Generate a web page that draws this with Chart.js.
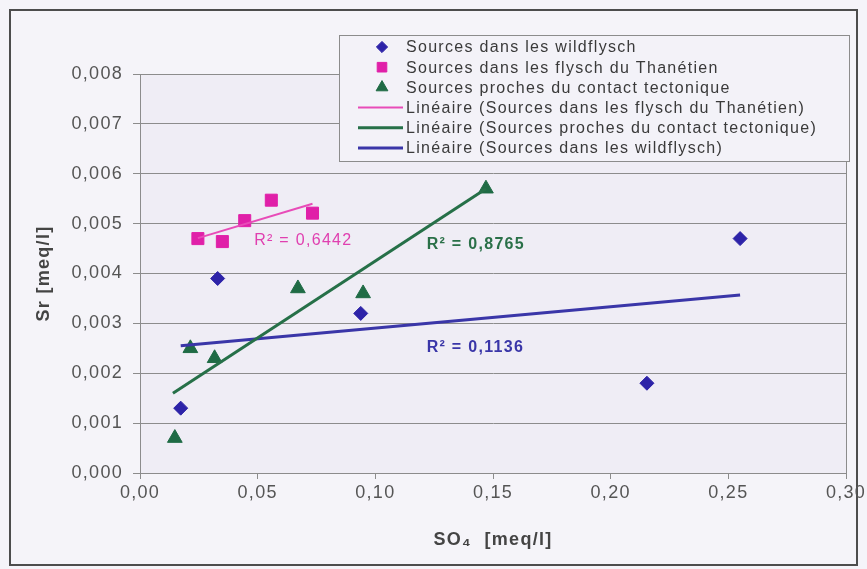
<!DOCTYPE html>
<html>
<head>
<meta charset="utf-8">
<script src="https://cdn.jsdelivr.net/npm/chart.js@4.4.0/dist/chart.umd.min.js"></script>
<style>
html, body { margin: 0; padding: 0; background: #f5f4f9; }
</style>
</head>
<body>
<canvas id="ScatterChart" width="867" height="569"></canvas>
<script>
// values
var wildX = [0.0173, 0.033, 0.0938, 0.2154, 0.255];
var wildY = [0.0013, 0.0039, 0.0032, 0.0018, 0.0047];
var thanX = [0.0246, 0.035, 0.0445, 0.0558, 0.0733];
var thanY = [0.0047, 0.00464, 0.00506, 0.00547, 0.00521];
var tectX = [0.0148, 0.0214, 0.0317, 0.0671, 0.0948, 0.147];
var tectY = [0.0007, 0.0025, 0.0023, 0.0037, 0.0036, 0.0057];

// trend line end points
var thanTrendX = [0.0246, 0.0733];
var thanTrendY = [0.00471, 0.0054];
var tectTrendX = [0.014, 0.147];
var tectTrendY = [0.0016, 0.0057];
var wildTrendX = [0.0173, 0.255];
var wildTrendY = [0.00255, 0.00357];

var r2Texts = ["R\u00b2 = 0,6442", "R\u00b2 = 0,8765", "R\u00b2 = 0,1136"];

var xTicks = [0, 0.05, 0.10, 0.15, 0.20, 0.25, 0.30];
var yTicks = [0, 0.001, 0.002, 0.003, 0.004, 0.005, 0.006, 0.007, 0.008];

var seriesNames = [
    "Sources dans les wildflysch",
    "Sources dans les flysch du Than\u00e9tien",
    "Sources proches du contact tectonique",
    "Lin\u00e9aire (Sources dans les flysch du Than\u00e9tien)",
    "Lin\u00e9aire (Sources proches du contact tectonique)",
    "Lin\u00e9aire (Sources dans les wildflysch)"
];

function toPoints(xs, ys) {
    var pts = [];
    for (var i = 0; i < xs.length; i++) {
        pts.push({ x: xs[i], y: ys[i] });
    }
    return pts;
}

var blue = "#2d23a8", pink = "#e020a8", green = "#1f6b45";
var font = "'Liberation Sans', Arial, sans-serif";

// the scanned original has wide lettering
function spread(chart) {
    if ('letterSpacing' in chart.ctx) chart.ctx.letterSpacing = "1.3px";
}

var decorPlugin = {
    id: 'decor',
    beforeLayout: function (chart) { spread(chart); },
    beforeDraw: function (chart) {
        spread(chart);
        var ctx = chart.ctx, a = chart.chartArea;
        ctx.save();
        ctx.fillStyle = "#f5f4f9";
        ctx.fillRect(0, 0, chart.width, chart.height);
        ctx.strokeStyle = "#4d4d4d";
        ctx.lineWidth = 2;
        ctx.strokeRect(10, 10, 847, 555);
        ctx.fillStyle = "#efedf5";
        ctx.fillRect(a.left, a.top, a.right - a.left, a.bottom - a.top);
        ctx.restore();
    },
    afterDraw: function (chart) {
        var ctx = chart.ctx, a = chart.chartArea;
        var xs = chart.scales.x, ys = chart.scales.y;
        ctx.save();
        // plot area frame
        ctx.strokeStyle = "#8c8c8c";
        ctx.lineWidth = 1;
        ctx.strokeRect(a.left + 0.5, a.top + 0.5, a.right - a.left, a.bottom - a.top);

        // R² labels
        ctx.textBaseline = "middle";
        ctx.textAlign = "left";
        ctx.font = "16px " + font;
        ctx.fillStyle = "#e040b0";
        ctx.fillText(r2Texts[0], xs.getPixelForValue(0.0485), ys.getPixelForValue(0.00465));
        ctx.font = "bold 16px " + font;
        ctx.fillStyle = "#2a7048";
        ctx.fillText(r2Texts[1], xs.getPixelForValue(0.1218), ys.getPixelForValue(0.00458));
        ctx.fillStyle = "#3a36a8";
        ctx.fillText(r2Texts[2], xs.getPixelForValue(0.1218), ys.getPixelForValue(0.00251));

        // legend box
        var lx = 339, ly = 35, lw = 510, lh = 126;
        ctx.fillStyle = "#f3f2f8";
        ctx.fillRect(lx, ly, lw, lh);
        ctx.strokeStyle = "#8c8c8c";
        ctx.lineWidth = 1;
        ctx.strokeRect(lx + 0.5, ly + 0.5, lw, lh);
        var ds = chart.data.datasets;
        ctx.font = "16px " + font;
        for (var i = 0; i < ds.length; i++) {
            var y = 47 + i * 20.2;
            if (ds[i].showLine) {
                ctx.strokeStyle = ds[i].borderColor;
                ctx.lineWidth = ds[i].borderWidth;
                ctx.beginPath();
                ctx.moveTo(358, y);
                ctx.lineTo(403, y);
                ctx.stroke();
            } else {
                ctx.fillStyle = ds[i].backgroundColor;
                ctx.strokeStyle = ds[i].borderColor;
                Chart.helpers.drawPoint(ctx, {
                    pointStyle: ds[i].pointStyle,
                    radius: ds[i].pointRadius * 0.8,
                    rotation: 0,
                    borderWidth: 1
                }, 382, y);
            }
            ctx.fillStyle = "#3a3a3a";
            ctx.fillText(ds[i].label, 406, y + 1);
        }
        ctx.restore();
    }
};

var ctx = document.getElementById("ScatterChart").getContext("2d");
var myChart = new Chart(ctx, {
    type: 'scatter',
    data: {
        datasets: [
            { label: seriesNames[0], data: toPoints(wildX, wildY), pointStyle: 'rectRot', pointRadius: 7,
              backgroundColor: blue, borderColor: blue, borderWidth: 1, order: 2 },
            { label: seriesNames[1], data: toPoints(thanX, thanY), pointStyle: 'rect', pointRadius: 8.5,
              backgroundColor: pink, borderColor: pink, borderWidth: 1, order: 2 },
            { label: seriesNames[2], data: toPoints(tectX, tectY), pointStyle: 'triangle', pointRadius: 8.5,
              backgroundColor: green, borderColor: green, borderWidth: 1, order: 2 },
            { label: seriesNames[3], data: toPoints(thanTrendX, thanTrendY), showLine: true, pointRadius: 0,
              borderColor: "#e84cb8", borderWidth: 2, order: 1 },
            { label: seriesNames[4], data: toPoints(tectTrendX, tectTrendY), showLine: true, pointRadius: 0,
              borderColor: "#267048", borderWidth: 3, order: 1 },
            { label: seriesNames[5], data: toPoints(wildTrendX, wildTrendY), showLine: true, pointRadius: 0,
              borderColor: "#3a36a8", borderWidth: 3, order: 1 }
        ]
    },
    options: {
        responsive: false,
        animation: false,
        devicePixelRatio: 1,
        layout: { padding: { top: 74, right: 21, left: 31, bottom: 16 } },
        plugins: {
            legend: { display: false },
            tooltip: { enabled: false }
        },
        scales: {
            x: {
                type: 'linear',
                min: 0, max: 0.3,
                afterBuildTicks: function (scale) {
                    scale.ticks = xTicks.map(function (v) { return { value: v }; });
                },
                afterFit: function (scale) {
                    scale.height = 80;
                    scale.paddingLeft = 0;
                    scale.paddingRight = 0;
                },
                border: { display: true, color: "#8c8c8c", width: 1 },
                grid: { drawOnChartArea: false, drawTicks: true, tickLength: 6, color: "#8c8c8c" },
                ticks: {
                    color: "#555555", padding: 3, maxRotation: 0,
                    font: { family: font, size: 18 },
                    callback: function (v) { return v.toFixed(2).replace('.', ','); }
                },
                title: {
                    display: true, text: "SO\u2084  [meq/l]", color: "#444444",
                    font: { family: font, size: 18, weight: 'bold' }, padding: { top: 2, bottom: 2 }
                }
            },
            y: {
                type: 'linear',
                min: 0, max: 0.008,
                afterBuildTicks: function (scale) {
                    scale.ticks = yTicks.map(function (v) { return { value: v }; });
                },
                afterFit: function (scale) { scale.width = 109; },
                border: { display: true, color: "#8c8c8c", width: 1 },
                grid: { drawOnChartArea: true, drawTicks: true, tickLength: 7, color: "#8c8c8c" },
                ticks: {
                    color: "#555555", padding: 10,
                    font: { family: font, size: 18 },
                    callback: function (v) { return v.toFixed(3).replace('.', ','); }
                },
                title: {
                    display: true, text: "Sr [meq/l]", color: "#444444",
                    font: { family: font, size: 18, weight: 'bold' }, padding: { top: 2, bottom: 2 }
                }
            }
        }
    },
    plugins: [decorPlugin]
});
</script>
</body>
</html>
